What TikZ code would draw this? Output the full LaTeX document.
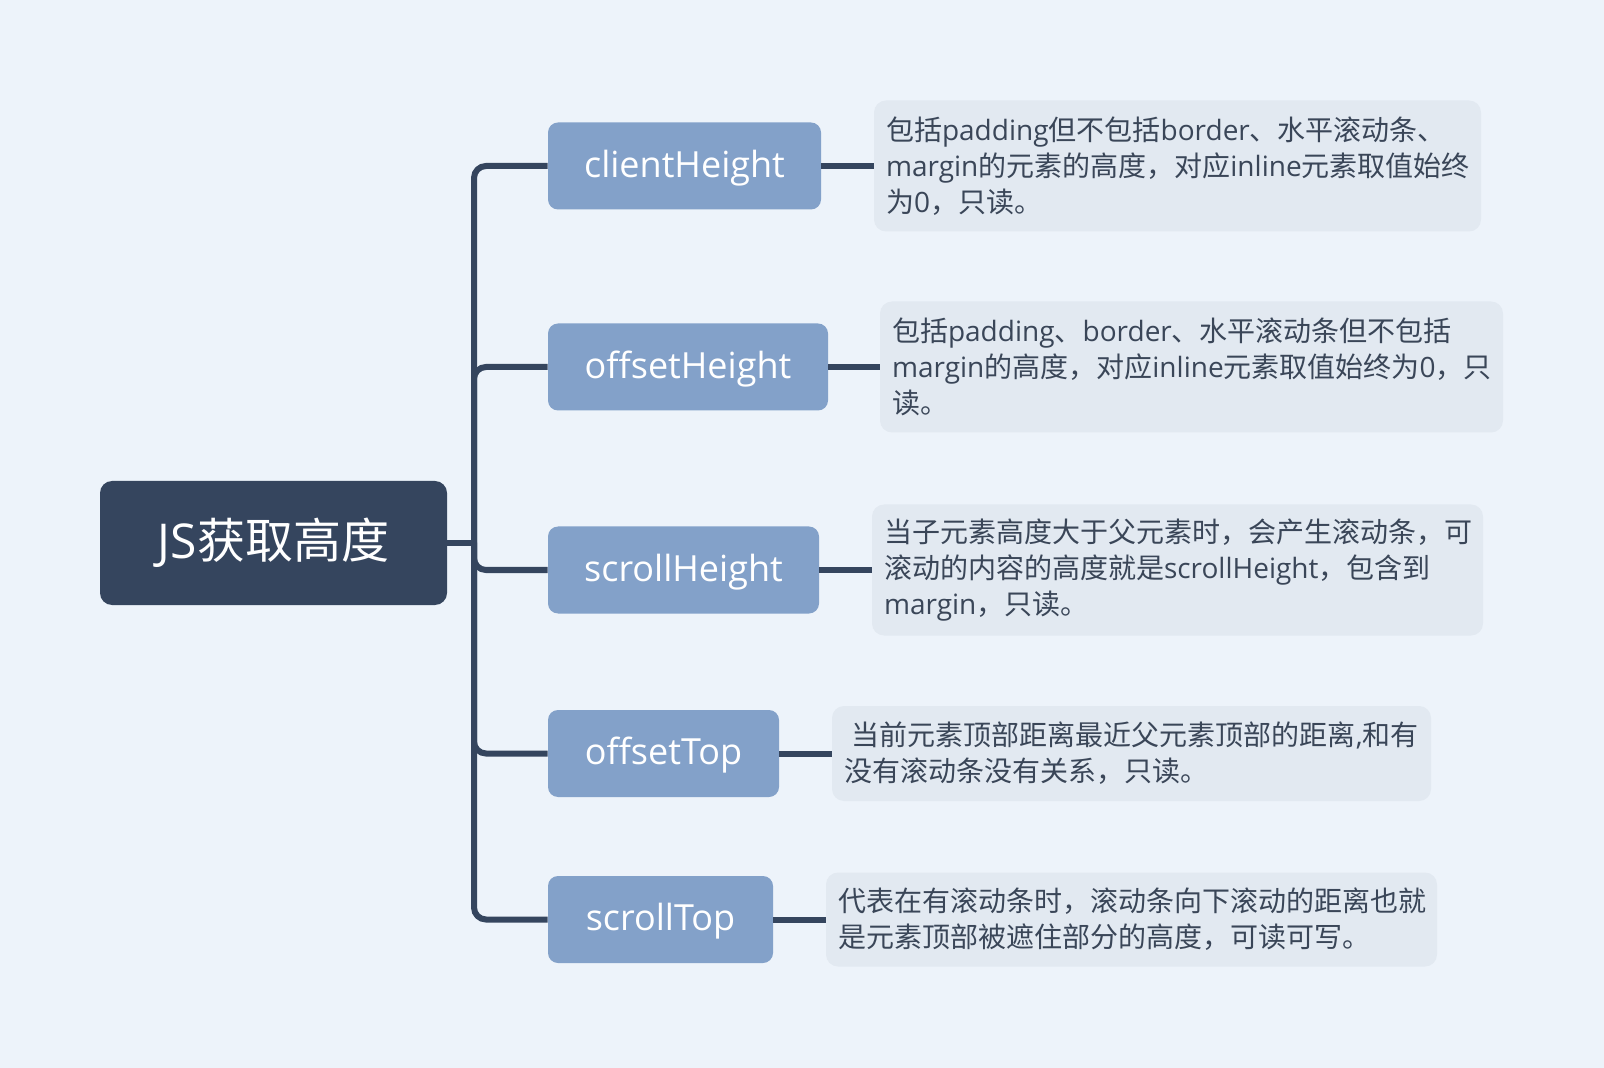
\documentclass[tikz,border=0pt]{standalone}
\usepackage{fontspec}
\setmainfont{Open Sans}
\newfontfamily\zhfont{Noto Sans CJK SC}
\newcommand\zh[1]{{\zhfont #1}}

\definecolor{bgc}{HTML}{EDF3FA}
\definecolor{rootc}{HTML}{35455E}
\definecolor{kidc}{HTML}{83A1C9}
\definecolor{descc}{HTML}{E2E9F1}
\definecolor{txtc}{HTML}{3A4658}

\tikzset{
  rootbox/.style={rectangle, rounded corners=6pt, fill=rootc, text=white,
    font=\fontsize{24pt}{28pt}\selectfont, minimum width=173.5pt,
    minimum height=62pt, inner sep=0pt},
  kidbox/.style={rectangle, rounded corners=5pt, fill=kidc, text=white,
    font=\fontsize{18pt}{22pt}\selectfont, minimum height=43.5pt, inner sep=0pt,
    text depth=2.5pt},
  descbox/.style={rectangle, rounded corners=6pt, fill=descc, text=txtc,
    font=\fontsize{14pt}{18pt}\selectfont, align=left,
    inner xsep=6pt, inner ysep=0pt},
  link/.style={draw=rootc, line width=3pt},
}

\begin{document}
\hyphenpenalty=10000
\begin{tikzpicture}[x=0.5pt, y=-0.5pt]
  % canvas
  \fill[bgc] (0,0) rectangle (1604,1068);
  \useasboundingbox (0,0) rectangle (1604,1068);

  % central topic
  \node[rootbox] (root) at (273.5,543) {JS\zh{获取高度}};

  % properties
  \node[kidbox, minimum width=136.5pt] (c1) at (684.5,166) {clientHeight};
  \node[kidbox, minimum width=140pt]   (c2) at (688,367)   {offsetHeight};
  \node[kidbox, minimum width=135.5pt] (c3) at (683.5,570) {scrollHeight};
  \node[kidbox, minimum width=115.5pt] (c4) at (663.5,753.5) {offsetTop};
  \node[kidbox, minimum width=112.5pt] (c5) at (660.5,919.5) {scrollTop};

  % explanations
  \node[descbox, text width=291.5pt, minimum height=65.5pt] (d1) at (1177.5,166)
    {\zh{包括}padding\zh{但不包括}border\zh{、水平滚动条、}\\
     margin\zh{的元素的高度，对应}inline\zh{元素取值始终}\\
     \zh{为}0\zh{，只读。}};
  \node[descbox, text width=299.5pt, minimum height=65.5pt] (d2) at (1191.5,367)
    {\zh{包括}padding\zh{、}border\zh{、水平滚动条但不包括}\\
     margin\zh{的高度，对应}inline\zh{元素取值始终为}0\zh{，只}\\
     \zh{读。}};
  \node[descbox, text width=293.5pt, minimum height=65.5pt] (d3) at (1177.5,570)
    {\zh{当子元素高度大于父元素时，会产生滚动条，可}\\
     \zh{滚动的内容的高度就是}scrollHeight\zh{，包含到}\\
     margin\zh{，只读。}};
  \node[descbox, text width=287.5pt, minimum height=47.5pt] (d4) at (1131.5,753.5)
    {\hspace*{0.28em}\zh{当前元素顶部距离最近父元素顶部的距离},\zh{和有}\\
     \zh{没有滚动条没有关系，只读。}};
  \node[descbox, text width=293.5pt, minimum height=47pt] (d5) at (1131.5,919.5)
    {\zh{代表在有滚动条时，滚动条向下滚动的距离也就}\\
     \zh{是元素顶部被遮住部分的高度，可读可写。}};

  % tree connectors
  \coordinate (hub) at (474,543);
  \draw[link] (root.east) -- (hub);
  \foreach \k in {1,...,5} {
    \draw[link, rounded corners=6pt] (hub) |- (c\k.west);
    \draw[link] (c\k.east) -- (d\k.west);
  }
\end{tikzpicture}
\end{document}
